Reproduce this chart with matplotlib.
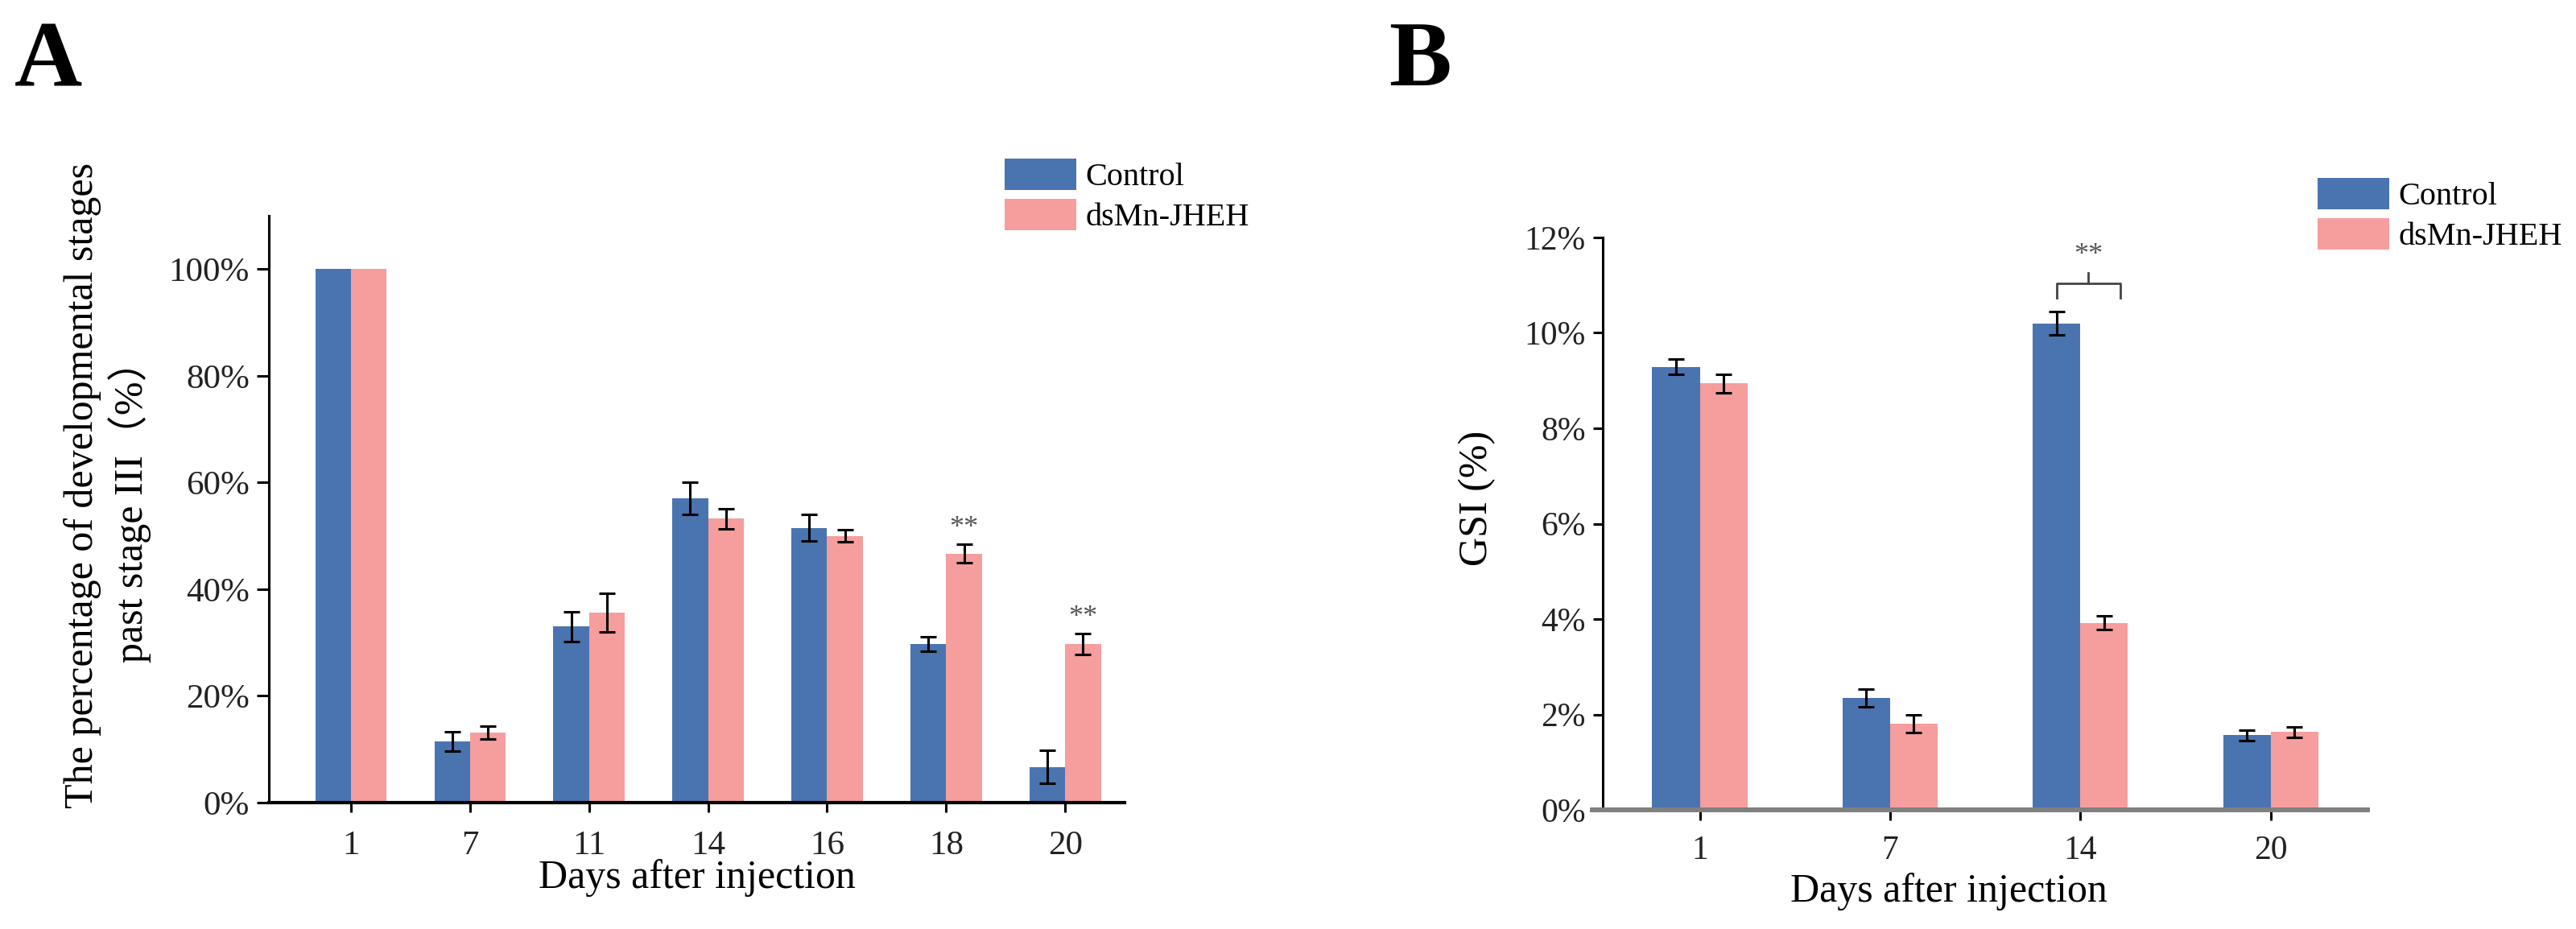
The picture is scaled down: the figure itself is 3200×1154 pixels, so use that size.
import matplotlib
matplotlib.use('Agg')
import matplotlib.pyplot as plt
import numpy as np
from matplotlib.ticker import FuncFormatter

plt.rcParams['font.family'] = ['Liberation Serif', 'Noto Sans CJK SC', 'DejaVu Sans']

# panel A data
days_a = ['1', '7', '11', '14', '16', '18', '20']
ctrl_a = [100, 11.5, 33.0, 57.0, 51.5, 29.7, 6.7]
ctrl_a_err = [0, 1.8, 2.8, 3.0, 2.5, 1.4, 3.1]
ds_a = [100, 13.1, 35.6, 53.2, 50.0, 46.7, 29.7]
ds_a_err = [0, 1.2, 3.6, 1.9, 1.1, 1.7, 2.0]
sig_a = ['', '', '', '', '', '**', '**']

# panel B data
days_b = ['1', '7', '14', '20']
ctrl_b = [9.29, 2.35, 10.2, 1.57]
ctrl_b_err = [0.16, 0.19, 0.25, 0.11]
ds_b = [8.94, 1.81, 3.92, 1.63]
ds_b_err = [0.19, 0.19, 0.14, 0.11]

blue = '#4a74b0'
pink = '#f69d9d'
txt = '#222222'

fig = plt.figure(figsize=(32, 11.54), dpi=100)
axA = fig.add_axes([0.1044, 0.1360, 0.3322, 0.6318])
axB = fig.add_axes([0.6222, 0.1282, 0.2969, 0.6162])


def draw_bars(ax, days, c, ce, d, de, w):
    x = np.arange(len(days))
    ax.bar(x - w / 2, c, w, color=blue, label='Control')
    ax.bar(x + w / 2, d, w, color=pink, label='dsMn-JHEH')
    for xi, v, e in zip(x - w / 2, c, ce):
        if e > 0:
            ax.errorbar(xi, v, yerr=e, color='black', capsize=7, elinewidth=2.2, capthick=2.2)
    for xi, v, e in zip(x + w / 2, d, de):
        if e > 0:
            ax.errorbar(xi, v, yerr=e, color='black', capsize=7, elinewidth=2.2, capthick=2.2)
    ax.set_xticks(x)
    ax.set_xticklabels(days)
    ax.spines['top'].set_visible(False)
    ax.spines['right'].set_visible(False)
    return x


# ---- A ----
xa = draw_bars(axA, days_a, ctrl_a, ctrl_a_err, ds_a, ds_a_err, 0.3)
for xi, v, e, s in zip(xa, ds_a, ds_a_err, sig_a):
    if s:
        axA.text(xi + 0.15, v + e + 3, s, ha='center', va='center', fontsize=26, color='#555555')
axA.set_xlim(-0.69, 6.5)
axA.set_ylim(0, 110)
axA.set_yticks(range(0, 101, 20))
axA.yaxis.set_major_formatter(FuncFormatter(lambda v, p: '%d%%' % v))
axA.spines['left'].set_linewidth(2.2)
axA.spines['bottom'].set_linewidth(3)
axA.tick_params(axis='y', length=10.8, width=2.2, pad=6.5, labelsize=31, labelcolor=txt)
axA.tick_params(axis='x', length=8.6, width=2.2, pad=16, labelsize=31, labelcolor=txt)
axA.set_xlabel('Days after injection', fontsize=36, labelpad=-2)
axA.legend(loc='upper left', bbox_to_anchor=(0.39, 0.8293), bbox_transform=fig.transFigure,
           frameon=False, fontsize=29, handlelength=2.2, handleheight=1.1,
           labelspacing=0.2, handletextpad=0.3, borderpad=0, borderaxespad=0)
fig.text(0.0319, 0.4775, 'The percentage of developmental stages',
         rotation=90, ha='center', va='center', fontsize=36)
fig.text(0.0503, 0.4601, 'past stage III（%）',
         rotation=90, ha='center', va='center', fontsize=36)
fig.text(0.0056, 0.978, 'A', fontsize=84, fontweight='bold', ha='left', va='top')

# ---- B ----
xb = draw_bars(axB, days_b, ctrl_b, ctrl_b_err, ds_b, ds_b_err, 0.25)
axB.set_xlim(-0.51, 3.51)
axB.set_ylim(0, 12)
axB.set_yticks(range(0, 13, 2))
axB.yaxis.set_major_formatter(FuncFormatter(lambda v, p: '%d%%' % v))
axB.spines['left'].set_linewidth(2.2)
axB.spines['bottom'].set_linewidth(4.3)
axB.spines['bottom'].set_color('#808080')
axB.spines['bottom'].set_bounds(-0.565, 3.51)
axB.tick_params(axis='y', length=9, width=2.2, pad=6.5, labelsize=30, labelcolor=txt)
axB.tick_params(axis='x', length=9, width=2.2, pad=13.5, labelsize=30, labelcolor=txt)
axB.set_xlabel('Days after injection', fontsize=36)
axB.xaxis.set_label_coords(0.453, -0.11)
axB.set_ylabel('GSI (%)', fontsize=36)
axB.yaxis.set_label_coords(-0.14, 0.544)
axB.legend(loc='upper left', bbox_to_anchor=(0.8997, 0.8085), bbox_transform=fig.transFigure,
           frameon=False, fontsize=29, handlelength=2.2, handleheight=1.1,
           labelspacing=0.2, handletextpad=0.3, borderpad=0, borderaxespad=0)
# significance bracket at day 14
i14 = days_b.index('14')
xl, xr = xb[i14] - 0.125, xb[i14] + 0.21
xm = (xl + xr) / 2
axB.plot([xl, xl, xr, xr], [10.73, 11.03, 11.03, 10.73], color='#444444', lw=2, clip_on=False)
axB.plot([xm, xm], [11.03, 11.26], color='#444444', lw=2, clip_on=False)
axB.text(xm, 11.62, '**', ha='center', va='center', fontsize=26, color='#555555')
fig.text(0.539, 0.978, 'B', fontsize=84, fontweight='bold', ha='left', va='top')

fig.savefig('out.png', dpi=100)
